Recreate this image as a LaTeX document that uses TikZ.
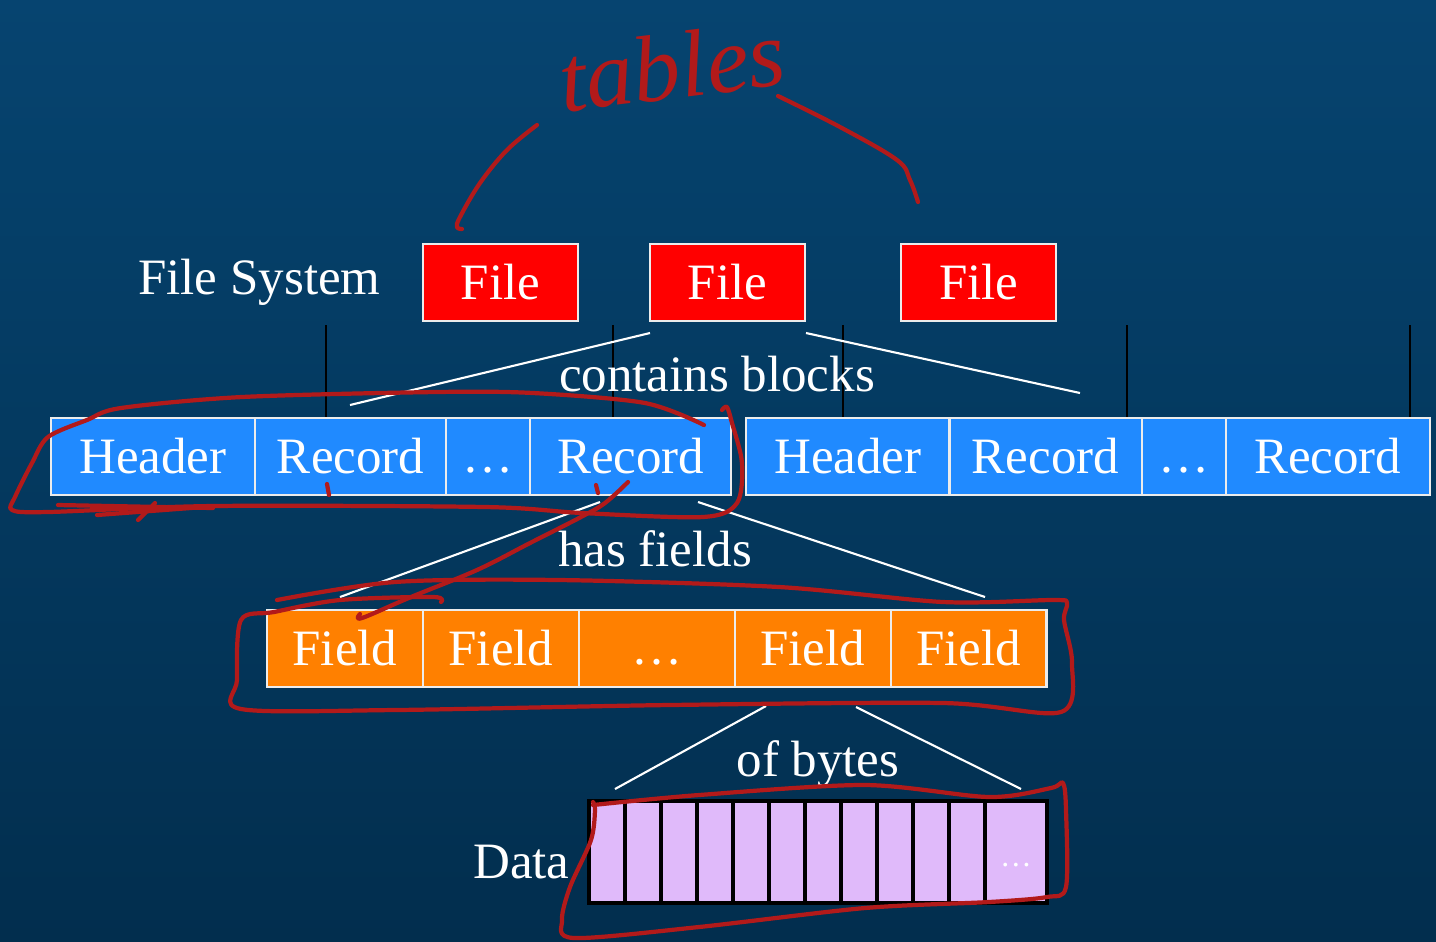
\documentclass[tikz,border=0pt]{standalone}
\usepackage{fontspec}
\setmainfont{Liberation Serif}
\usetikzlibrary{positioning}
\definecolor{slidetop}{RGB}{6,68,112}
\definecolor{slidebottom}{RGB}{2,46,78}
\definecolor{blockblue}{RGB}{32,138,255}
\definecolor{fieldorange}{RGB}{255,128,0}
\definecolor{bytelilac}{RGB}{224,186,250}
\definecolor{inkred}{RGB}{178,26,26}

\begin{document}
\begin{tikzpicture}[x=0.01cm,y=-0.01cm,
  font=\fontsize{14.5}{17}\selectfont,
  cell/.style={rectangle,draw=white!85!gray,line width=0.6pt,text=white,
               inner sep=0pt,outer sep=0pt,minimum height=0.77cm},
  file/.style={cell,fill=red,minimum width=1.55cm},
  block/.style={cell,fill=blockblue},
  field/.style={cell,fill=fieldorange,minimum width=1.558cm},
  byte/.style={rectangle,draw=black,line width=1pt,fill=bytelilac,
               inner sep=0pt,outer sep=0pt,minimum width=0.36cm,minimum height=1.02cm},
  caption/.style={text=white},
  fan/.style={draw=white,line width=0.6pt},
  rule/.style={draw=black,line width=0.8pt}]
  \tikzstyle{ink} = [draw=inkred,line width=1.2pt,line cap=round,line join=round]

    % slide background
    \fill[top color=slidetop,bottom color=slidebottom] (0,0) rectangle (1436,941);
    \useasboundingbox (0,0) rectangle (1436,941);

    \node[file] (FILEA) at (500.5,282.5) {File};
    \node[file] (FILEB) [right=0.72cm of FILEA] {File};
    \node[file] (FILEC) [right=0.96cm of FILEB] {File};
    \node[caption] (FILESYSTEM) [left=0.3cm of FILEA] {File System};

    \foreach \x in {326,613,843,1127,1410}
      \draw[rule] (\x,325) -- (\x,418);

    % blocks
    \node[block,minimum width=2.04cm] (HEADERA) at (153,456.5) {Header};
    \node[block,minimum width=1.91cm] (RECORDA) [right=0pt of HEADERA] {Record};
    \node[block,minimum width=0.84cm] (DOTSA) [right=0pt of RECORDA] {\vphantom{R}\dots};
    \node[block,minimum width=2.01cm] (RECORDB) [right=0pt of DOTSA] {Record};
    \node[block,minimum width=2.03cm] (HEADERB) [right=0.15cm of RECORDB] {Header};
    \node[block,minimum width=1.92cm] (RECORDC) [right=0pt of HEADERB] {Record};
    \node[block,minimum width=0.84cm] (DOTSB) [right=0pt of RECORDC] {\vphantom{R}\dots};
    \node[block,minimum width=2.04cm] (RECORDD) [right=0pt of DOTSB] {Record};

    % fields
    \node[field] (FIELDA) at (345,648.5) {Field};
    \node[field] (FIELDB) [right=0pt of FIELDA] {Field};
    \node[field] (DOTSC) [right=0pt of FIELDB] {\vphantom{R}\dots};
    \node[field] (FIELDC) [right=0pt of DOTSC] {Field};
    \node[field] (FIELDD) [right=0pt of FIELDC] {Field};

    % bytes
    \foreach \i in {0,...,10}
      \node[byte] (BYTE\i) at ({607+36*\i},852) {};
    \node[byte,minimum width=0.62cm,text=white,font=\fontsize{9}{9}\selectfont,text height=0.3cm]
      (BYTELAST) [right=0pt of BYTE10] {\dots};
    \node[caption] (DATA) [left=0.07cm of BYTE0,yshift=-0.1cm] {Data};

    \node[caption] (CONTAINS) at (717,374) {contains blocks};
    \node[caption] (HASFIELDS) at (655,549) {has fields};
    \node[caption] (OFBYTES) at (818,764) {of bytes};

    \coordinate (CBL) at (650,333);  \coordinate (CBLE) at (350,405);
    \coordinate (CBR) at (806,333);  \coordinate (CBRE) at (1080,393);
    \coordinate (HFL) at (600,502);  \coordinate (HFLE) at (340,597);
    \coordinate (HFR) at (698,502);  \coordinate (HFRE) at (985,597);
    \coordinate (OBL) at (766,706);  \coordinate (OBLE) at (615,789);
    \coordinate (OBR) at (856,707);  \coordinate (OBRE) at (1021,789);
    \draw[fan] (CBL) -- (CBLE) (CBR) -- (CBRE)
               (HFL) -- (HFLE) (HFR) -- (HFRE)
               (OBL) -- (OBLE) (OBR) -- (OBRE);

    % hand annotations
    \node[text=inkred,font=\fontsize{27}{27}\selectfont\itshape,rotate=7] (TABLES) at (672,66) {tables};
    \draw[ink] plot[smooth,tension=0.6] coordinates {(537,125) (507,150) (480,183) (460,217) (457,227) (462,229)};
    \draw[ink] plot[smooth,tension=0.6] coordinates {(778,96) (840,127) (897,160) (910,180) (918,202)};
    \draw[ink] plot[smooth,tension=0.5] coordinates {(704,425) (645,403) (533,393) (436,392) (242,397)
      (121,408) (87,420) (48,437) (32,463) (15,497) (12,510) (48,512) (213,506) (485,507)
      (582,513) (703,517) (737,503) (742,463) (732,423) (727,407) (722,410)};
    \draw[ink] (58,505) -- (213,508) (97,515) -- (204,507) (138,520) -- (155,503);
    \draw[ink] (327,484) -- (329,495) (596,485) -- (598,493);
    \draw[ink] plot[smooth,tension=0.6] coordinates {(628,482) (605,503) (581,517) (530,543)
      (477,570) (411,597) (362,618) (360,614)};
    \draw[ink] plot[smooth,tension=0.5] coordinates {(277,600) (395,582) (559,580) (779,587)
      (943,602) (1053,600) (1067,603) (1064,620) (1072,663) (1061,712) (943,703) (669,705)
      (395,710) (241,709) (237,680) (241,620) (274,612) (340,600) (433,597) (441,602)};
    \draw[ink] plot[smooth,tension=0.5] coordinates {(593,805) (699,795) (865,785) (989,797)
      (1051,788) (1063,783) (1066,810) (1066,887) (1047,897) (989,902) (865,908) (699,927)
      (574,938) (562,920) (570,887) (591,840) (595,810) (593,802)};

  \end{tikzpicture}
\end{document}
